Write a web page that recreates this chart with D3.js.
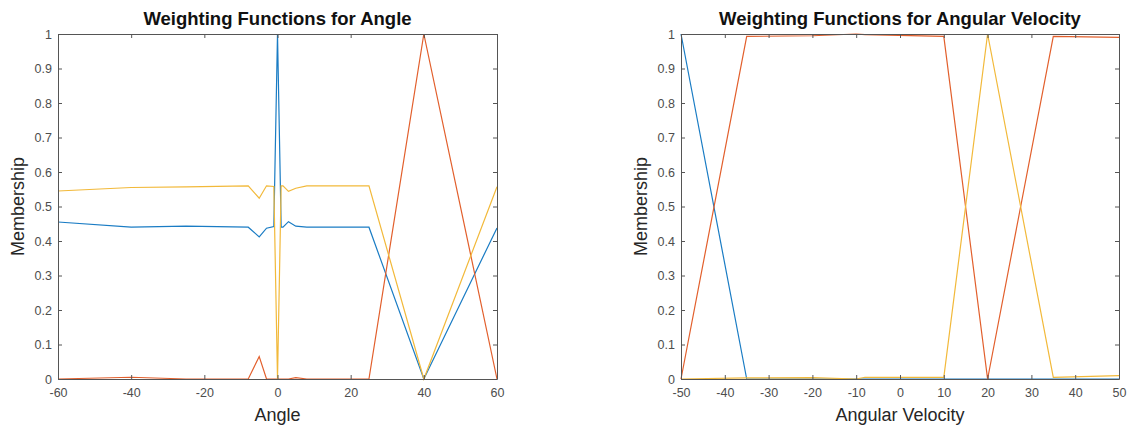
<!DOCTYPE html>
<html>
<head>
<meta charset="utf-8">
<script src="https://cdn.jsdelivr.net/npm/d3@7"></script>
<style>
  body { margin: 0; background: #fff; }
  svg { display: block; font-family: "Liberation Sans", Arial, sans-serif; }
</style>
</head>
<body>
<svg id="chart" width="1130" height="431"></svg>
<script>
// left panel: angle
var angleX      = [-60, -40, -25, -8, -5, -3, -1, 0, 1, 1.5, 3, 5, 8, 25, 40, 60];
var angleBlue   = [0.455, 0.44, 0.443, 0.44, 0.412, 0.437, 0.442, 1, 0.44, 0.44, 0.456, 0.443, 0.44, 0.44, 0, 0.438];
var angleRed    = [0, 0.005, 0, 0, 0.065, 0, 0, 0, 0, 0, 0, 0.004, 0, 0, 1, 0];
var angleYellow = [0.545, 0.555, 0.557, 0.56, 0.524, 0.56, 0.558, 0, 0.56, 0.56, 0.544, 0.553, 0.56, 0.56, 0, 0.557];

// right panel: angular velocity
var velX      = [-50, -35, -20, -10, -8, 10, 20, 35, 50];
var velBlue   = [1, 0, 0, 0, 0, 0, 0, 0, 0];
var velRed    = [0, 0.993, 0.995, 1, 0.998, 0.993, 0, 0.993, 0.99];
var velYellow = [0, 0.003, 0.004, 0, 0.005, 0.005, 1, 0.005, 0.01];

var angleTicks = [-60, -40, -20, 0, 20, 40, 60];
var velTicks = [-50, -40, -30, -20, -10, 0, 10, 20, 30, 40, 50];
var yTicks = [0, 0.1, 0.2, 0.3, 0.4, 0.5, 0.6, 0.7, 0.8, 0.9, 1];

var colors = ["#1a7cc4", "#e25f2c", "#f2b93a"];

var svg = d3.select("#chart");

// matlab style labels: plain hyphen for minus
function fmt(d) { return String(d); }

function drawPanel(opts) {
    var x = d3.scaleLinear().domain(opts.domain).range([opts.left, opts.right]);
    var y = d3.scaleLinear().domain([0, 1]).range([379, 34]);
    var g = svg.append("g");

    // the lines, blue then red then yellow like matlab
    var line = d3.line()
        .x(function(d) { return x(d[0]); })
        .y(function(d) { return y(d[1]); });
    opts.series.forEach(function(s, i) {
        var pts = opts.xs.map(function(v, j) { return [v, s[j]]; });
        g.append("path")
            .datum(pts)
            .attr("fill", "none")
            .attr("stroke", colors[i])
            .attr("stroke-width", 1.2)
            .attr("d", line);
    });

    // axes, ticks pointing inwards
    var axisColor = "#555";
    var bottom = g.append("g").attr("transform", "translate(0,379)")
        .call(d3.axisBottom(x).tickValues(opts.ticks).tickSizeInner(-4).tickSizeOuter(0).tickPadding(9).tickFormat(fmt));
    var top = g.append("g").attr("transform", "translate(0,34)")
        .call(d3.axisTop(x).tickValues(opts.ticks).tickSizeInner(-4).tickSizeOuter(0).tickFormat(""));
    var leftAx = g.append("g").attr("transform", "translate(" + opts.left + ",0)")
        .call(d3.axisLeft(y).tickValues(yTicks).tickSizeInner(-4).tickSizeOuter(0).tickPadding(6).tickFormat(fmt));
    var rightAx = g.append("g").attr("transform", "translate(" + opts.right + ",0)")
        .call(d3.axisRight(y).tickValues(yTicks).tickSizeInner(-4).tickSizeOuter(0).tickFormat(""));

    [bottom, top, leftAx, rightAx].forEach(function(a) {
        a.select(".domain").attr("stroke", axisColor);
        a.selectAll(".tick line").attr("stroke", axisColor);
        a.selectAll("text")
            .attr("fill", "#4d4d4d")
            .style("font-size", "12.5px")
            .style("font-family", "'Liberation Sans', Arial, sans-serif");
    });

    // title and labels
    var mid = (opts.left + opts.right) / 2;
    svg.append("text")
        .attr("x", mid).attr("y", 25)
        .attr("text-anchor", "middle")
        .style("font-size", "18.5px").style("font-weight", "bold")
        .attr("fill", "#111")
        .text(opts.title);
    svg.append("text")
        .attr("x", mid).attr("y", 421)
        .attr("text-anchor", "middle")
        .style("font-size", "18px")
        .attr("fill", "#262626")
        .text(opts.xlabel);
    svg.append("text")
        .attr("transform", "translate(" + (opts.left - 34) + ",206.5) rotate(-90)")
        .attr("text-anchor", "middle")
        .style("font-size", "18px")
        .attr("fill", "#262626")
        .text("Membership");
}

drawPanel({
    left: 58, right: 497, domain: [-60, 60],
    xs: angleX, series: [angleBlue, angleRed, angleYellow],
    ticks: angleTicks,
    title: "Weighting Functions for Angle", xlabel: "Angle"
});

drawPanel({
    left: 681, right: 1119, domain: [-50, 50],
    xs: velX, series: [velBlue, velRed, velYellow],
    ticks: velTicks,
    title: "Weighting Functions for Angular Velocity", xlabel: "Angular Velocity"
});
</script>
</body>
</html>
